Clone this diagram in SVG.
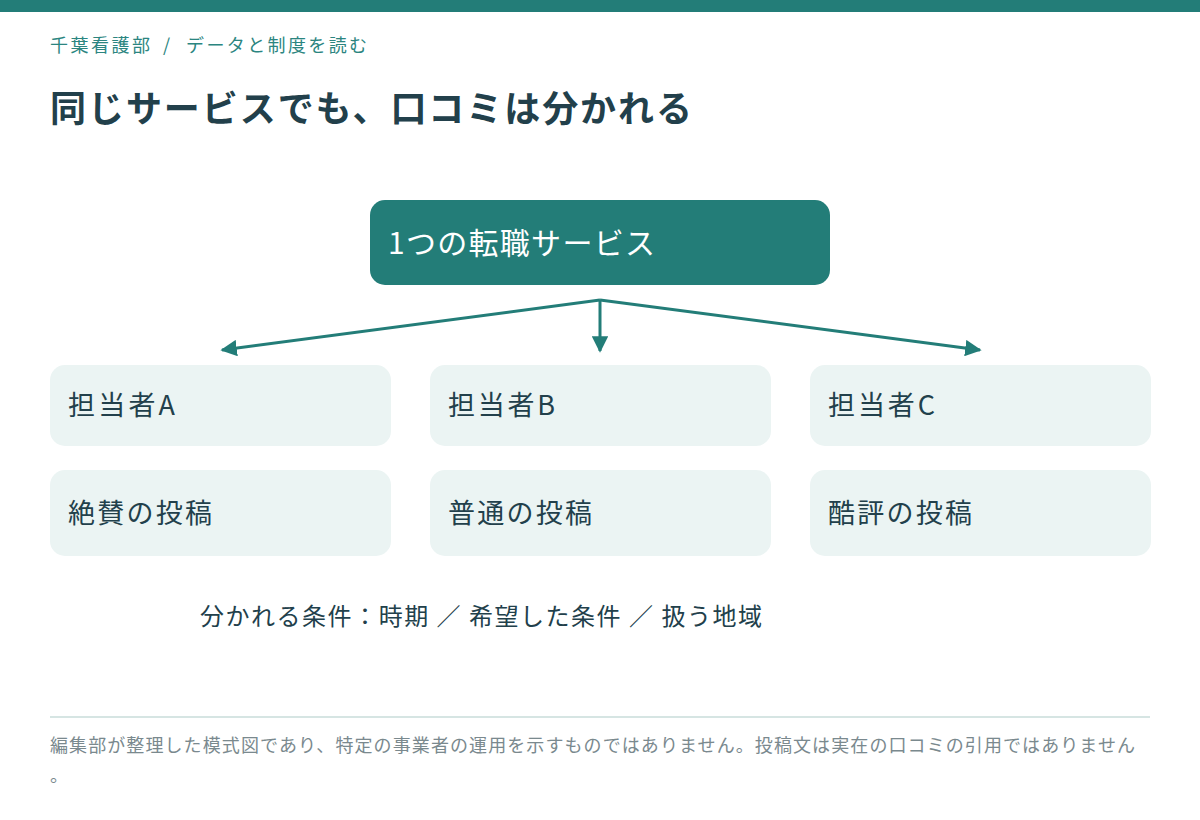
<svg xmlns="http://www.w3.org/2000/svg" width="1200" height="820" viewBox="0 0 1200 820">
  <defs>
    <style>
      .jp { font-family: "Noto Sans CJK JP", "Noto Sans", "Liberation Sans", sans-serif; }
      .box { fill: #ebf4f3; }
      .lbl { font-size: 27px; fill: #22404b; }
      .conn { stroke: #237d78; stroke-width: 3; fill: none; }
    </style>
    <marker id="ah" viewBox="0 0 10 10" refX="9" refY="5" markerWidth="5.5" markerHeight="5.5" orient="auto" markerUnits="strokeWidth">
      <path d="M0,0 L10,5 L0,10 z" fill="#237d78"/>
    </marker>
  </defs>
  <rect width="1200" height="820" fill="#ffffff"/>
  <rect x="0" y="0" width="1200" height="12" fill="#237d78"/>
  <text class="jp" y="52" font-size="18" fill="#2b8580"><tspan x="50" textLength="100" lengthAdjust="spacing">千葉看護部</tspan><tspan x="163">/</tspan><tspan x="186" textLength="181" lengthAdjust="spacing">データと制度を読む</tspan></text>
  <text class="jp" x="50" y="122" font-size="36" font-weight="bold" fill="#22404b" textLength="642" lengthAdjust="spacing">同じサービスでも、口コミは分かれる</text>

  <g id="service">
    <rect x="370" y="200" width="460" height="85" rx="15" fill="#237d78"/>
    <text class="jp" x="388" y="254" font-size="30" fill="#ffffff" textLength="267" lengthAdjust="spacing">1つの転職サービス</text>
  </g>

  <g id="connectors">
    <line class="conn" x1="600" y1="300" x2="222" y2="350" marker-end="url(#ah)"/>
    <line class="conn" x1="600" y1="300" x2="600" y2="351" marker-end="url(#ah)"/>
    <line class="conn" x1="600" y1="300" x2="980" y2="350" marker-end="url(#ah)"/>
  </g>

  <g id="staffA">
    <rect class="box" x="50" y="365" width="341" height="81" rx="15"/>
    <text class="jp lbl" x="68" y="415" textLength="107" lengthAdjust="spacing">担当者A</text>
  </g>
  <g id="staffB">
    <rect class="box" x="430" y="365" width="341" height="81" rx="15"/>
    <text class="jp lbl" x="448" y="415" textLength="107" lengthAdjust="spacing">担当者B</text>
  </g>
  <g id="staffC">
    <rect class="box" x="810" y="365" width="341" height="81" rx="15"/>
    <text class="jp lbl" x="828" y="415" textLength="107" lengthAdjust="spacing">担当者C</text>
  </g>
  <g id="postA">
    <rect class="box" x="50" y="470" width="341" height="86" rx="15"/>
    <text class="jp lbl" x="68" y="523" textLength="144" lengthAdjust="spacing">絶賛の投稿</text>
  </g>
  <g id="postB">
    <rect class="box" x="430" y="470" width="341" height="86" rx="15"/>
    <text class="jp lbl" x="448" y="523" textLength="144" lengthAdjust="spacing">普通の投稿</text>
  </g>
  <g id="postC">
    <rect class="box" x="810" y="470" width="341" height="86" rx="15"/>
    <text class="jp lbl" x="828" y="523" textLength="144" lengthAdjust="spacing">酷評の投稿</text>
  </g>

  <g id="conditions">
    <text class="jp" x="200" y="625" font-size="24" fill="#22404b" textLength="562" lengthAdjust="spacing">分かれる条件：時期 ／ 希望した条件 ／ 扱う地域</text>
  </g>

  <line x1="50" y1="717" x2="1150" y2="717" stroke="#d6e5e3" stroke-width="2"/>
  <text class="jp" x="50" y="752" font-size="18" fill="#7a898e" textLength="1085" lengthAdjust="spacing">編集部が整理した模式図であり、特定の事業者の運用を示すものではありません。投稿文は実在の口コミの引用ではありません</text>
  <text class="jp" x="50" y="782" font-size="18" fill="#7a898e">。</text>
</svg>
